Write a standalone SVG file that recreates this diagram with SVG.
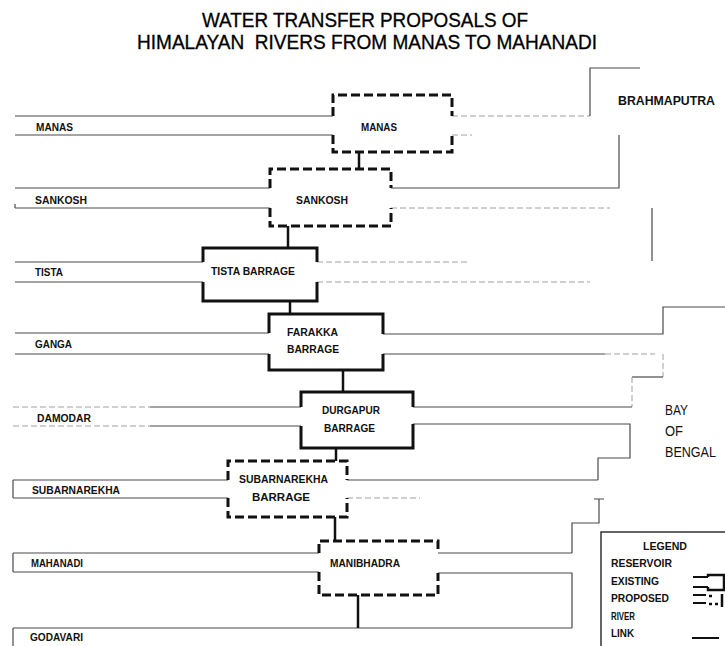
<svg xmlns="http://www.w3.org/2000/svg" width="725" height="646" viewBox="0 0 725 646">
<style>
.bg{fill:#fff}
.river{stroke:#4a4a4a;stroke-width:1.2;fill:none}
.faint{stroke:#a0a0a0;stroke-width:1;stroke-dasharray:6 3;fill:none}
.exist{stroke:#111;stroke-width:3;fill:none}
.prop{stroke:#111;stroke-width:3;fill:none;stroke-dasharray:9 4}
.link{stroke:#111;stroke-width:2.5;fill:none}
.lbl{font-family:"Liberation Sans",Arial,sans-serif;font-weight:bold;font-size:11px;fill:#111}
.big{font-family:"Liberation Sans",Arial,sans-serif;font-size:14px;fill:#111}
.title{font-family:"Liberation Sans",Arial,sans-serif;font-size:19.5px;fill:#000;stroke:#000;stroke-width:0.3}
</style>
<rect class="bg" x="0" y="0" width="725" height="646"/>
<g id="title">
<text class="title" x="202" y="27" textLength="326" lengthAdjust="spacingAndGlyphs">WATER TRANSFER PROPOSALS OF</text>
<text class="title" x="137" y="49" textLength="460" lengthAdjust="spacingAndGlyphs" xml:space="preserve">HIMALAYAN  RIVERS FROM MANAS TO MAHANADI</text>
</g>
<g id="rivers">
<path class="river" d="M15,116 H333 M15,135 H333"/>
<path class="faint" d="M452,116 H590 M452,135 H472"/>
<path class="river" d="M640,68 H590 V116"/>
<path class="river" d="M15,188 H270 M15,208 H270 M15,204 V208"/>
<path class="river" d="M391,188 H619 V135"/>
<path class="faint" d="M391,208 H610"/>
<path class="river" d="M652,208 V261"/>
<path class="river" d="M15,262 H203 M15,282 H203"/>
<path class="faint" d="M317,262 H470 M317,282 H590"/>
<path class="river" d="M15,333 H269 M15,354 H269"/>
<path class="river" d="M383,334 H663 V307 H725"/>
<path class="river" d="M383,354 H605"/>
<path class="faint" d="M605,354 H655 M663,354 V377"/>
<path class="river" d="M663,377 H632"/>
<path class="faint" d="M632,377 V407"/>
<path class="faint" d="M13,407 H150"/>
<path class="river" d="M150,407 H301"/>
<path class="faint" d="M13,426 H150"/>
<path class="river" d="M150,426 H301"/>
<path class="river" d="M413,407 H632 M413,424 H630 V458 H598 V480"/>
<path class="river" d="M13,480 H228 M13,498 H228 M13,480 V498"/>
<path class="river" d="M347,480 H598"/>
<path class="faint" d="M347,498 H420"/>
<path class="river" d="M594,499 H604 M599,499 V523 H572 V553"/>
<path class="river" d="M13,553 H319 M13,572 H319 M13,553 V572"/>
<path class="river" d="M438,553 H572 M438,573 H572 V628"/>
<path class="river" d="M13,628 H572 M13,628 V646"/>
</g>
<g id="connectors">
<path class="link" d="M359,152 V169"/>
<path class="link" d="M288,226 V248"/>
<path class="link" d="M290,301 V314"/>
<path class="link" d="M343,370 V392"/>
<path class="link" d="M336,448 V461"/>
<path class="link" d="M335,517 V541"/>
<path class="link" d="M358,595 V628"/>
</g>
<g id="node-manas">
<path class="prop" d="M333,116 V95 H452 V116 M333,135 V152 H452 V135"/>
<text class="lbl" x="361" y="131" textLength="36" lengthAdjust="spacingAndGlyphs">MANAS</text>
</g>
<g id="node-sankosh">
<path class="prop" d="M270,188 V169 H391 V188 M270,208 V226 H391 V208"/>
<text class="lbl" x="296" y="204" textLength="52" lengthAdjust="spacingAndGlyphs">SANKOSH</text>
</g>
<g id="node-tista">
<path class="exist" d="M203,262 V248 H317 V262 M203,282 V301 H317 V282"/>
<text class="lbl" x="211" y="275" textLength="84" lengthAdjust="spacingAndGlyphs">TISTA BARRAGE</text>
</g>
<g id="node-farakka">
<path class="exist" d="M269,333 V314 H383 V334 M269,354 V370 H383 V354"/>
<text class="lbl" x="287" y="336" textLength="51" lengthAdjust="spacingAndGlyphs">FARAKKA</text>
<text class="lbl" x="287" y="353" textLength="52" lengthAdjust="spacingAndGlyphs">BARRAGE</text>
</g>
<g id="node-durgapur">
<path class="exist" d="M301,407 V392 H413 V407 M301,426 V448 H413 V424"/>
<text class="lbl" x="322" y="414" textLength="58" lengthAdjust="spacingAndGlyphs">DURGAPUR</text>
<text class="lbl" x="324" y="432" textLength="51" lengthAdjust="spacingAndGlyphs">BARRAGE</text>
</g>
<g id="node-subarnarekha">
<path class="prop" d="M228,480 V461 H347 V480 M228,498 V517 H347 V498"/>
<text class="lbl" x="239" y="483" textLength="89" lengthAdjust="spacingAndGlyphs" style="font-size:11.5px">SUBARNAREKHA</text>
<text class="lbl" x="252" y="501" textLength="58" lengthAdjust="spacingAndGlyphs" style="font-size:11.5px">BARRAGE</text>
</g>
<g id="node-manibhadra">
<path class="prop" d="M319,553 V541 H438 V553 M319,572 V595 H438 V573"/>
<text class="lbl" x="330" y="567" textLength="70" lengthAdjust="spacingAndGlyphs">MANIBHADRA</text>
</g>
<g id="river-labels">
<text class="lbl" x="36" y="131" textLength="37" lengthAdjust="spacingAndGlyphs">MANAS</text>
<text class="lbl" x="35" y="204" textLength="52" lengthAdjust="spacingAndGlyphs">SANKOSH</text>
<text class="lbl" x="35" y="276" textLength="28" lengthAdjust="spacingAndGlyphs">TISTA</text>
<text class="lbl" x="35" y="348" textLength="37" lengthAdjust="spacingAndGlyphs">GANGA</text>
<text class="lbl" x="37" y="422" textLength="54" lengthAdjust="spacingAndGlyphs">DAMODAR</text>
<text class="lbl" x="32" y="494" textLength="88" lengthAdjust="spacingAndGlyphs">SUBARNAREKHA</text>
<text class="lbl" x="31" y="567" textLength="52" lengthAdjust="spacingAndGlyphs">MAHANADI</text>
<text class="lbl" x="30" y="641" textLength="53" lengthAdjust="spacingAndGlyphs">GODAVARI</text>
</g>
<g id="brahmaputra">
<text class="big" x="618" y="105" textLength="97" lengthAdjust="spacingAndGlyphs" style="font-weight:bold;font-size:12.3px">BRAHMAPUTRA</text>
</g>
<g id="bay-of-bengal">
<text class="big" x="665" y="415" textLength="23" lengthAdjust="spacingAndGlyphs">BAY</text>
<text class="big" x="665" y="436" textLength="18" lengthAdjust="spacingAndGlyphs">OF</text>
<text class="big" x="665" y="457" textLength="51" lengthAdjust="spacingAndGlyphs">BENGAL</text>
</g>
<g id="legend">
<path d="M601,646 V532 H725" stroke="#333" stroke-width="1.5" fill="none"/>
<text class="lbl" x="643" y="550" textLength="44" lengthAdjust="spacingAndGlyphs">LEGEND</text>
<text class="lbl" x="611" y="567" textLength="61" lengthAdjust="spacingAndGlyphs">RESERVOIR</text>
<text class="lbl" x="611" y="585" textLength="48" lengthAdjust="spacingAndGlyphs">EXISTING</text>
<text class="lbl" x="611" y="602" textLength="58" lengthAdjust="spacingAndGlyphs">PROPOSED</text>
<text class="lbl" x="611" y="620" textLength="24" lengthAdjust="spacingAndGlyphs">RIVER</text>
<text class="lbl" x="611" y="637" textLength="23" lengthAdjust="spacingAndGlyphs">LINK</text>
<path d="M693,577 H708 M693,587 H708" stroke="#111" stroke-width="2" fill="none"/>
<path d="M708,577 V575 H724 V590 H708 V587" stroke="#111" stroke-width="2.5" fill="none"/>
<path d="M693,595 H706 M693,603 H706" stroke="#111" stroke-width="2" fill="none"/>
<path d="M709,596 H712 M709,604 H712 M715,604 H718" stroke="#111" stroke-width="2.5" fill="none"/>
<path d="M722,594 V607" stroke="#111" stroke-width="2.5" fill="none"/>
<path d="M692,638 H719" stroke="#111" stroke-width="2" fill="none"/>
</g>
</svg>
